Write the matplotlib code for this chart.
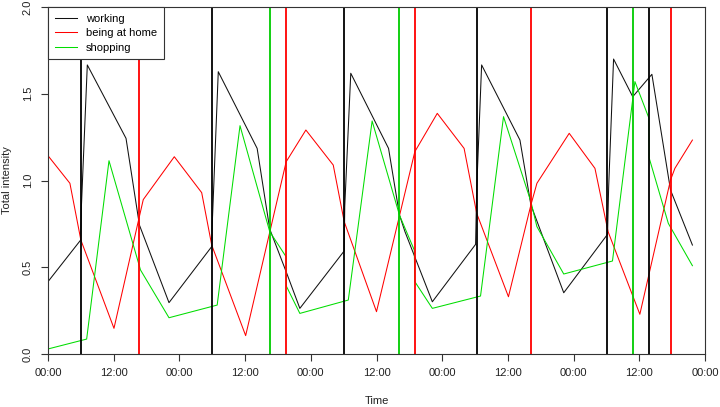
import matplotlib
matplotlib.use("Agg")
import matplotlib.pyplot as plt
from matplotlib.ticker import FixedLocator

plt.rcParams['font.family'] = ['Liberation Sans', 'DejaVu Sans']

# ---- data (time in hours from the first midnight) ----
working_t = [0, 5.97, 6.1, 7.18, 14.25, 16.7, 22.1, 29.9, 30.0, 31.1, 38.2, 40.5, 43.5, 46.0,
             54.1, 54.2, 55.3, 62.2, 64.2, 65.2, 70.2, 78.1, 78.3, 79.2, 86.2, 88.2, 94.2,
             102.2, 102.4, 103.3, 106.8, 110.3, 113.7, 117.7]
working_v = [0.417, 0.657, 0.85, 1.666, 1.243, 0.743, 0.296, 0.619, 0.75, 1.627, 1.185, 0.72, 0.474, 0.263,
             0.594, 0.85, 1.618, 1.185, 0.801, 0.705, 0.301, 0.632, 0.95, 1.666, 1.233, 0.859, 0.353,
             0.69, 0.96, 1.70, 1.483, 1.612, 0.945, 0.628]

home_t = [0, 4.0, 6.0, 12.05, 16.6, 17.4, 23.07, 28.07, 29.9, 36.1, 43.5, 47.1, 52.1, 54.1,
          60.0, 67.0, 71.1, 76.0, 78.3, 84.1, 88.2, 89.3, 95.2, 99.9, 102.3, 108.1, 113.7, 114.5, 117.7]
home_v = [1.143, 0.984, 0.657, 0.148, 0.78, 0.89, 1.137, 0.93, 0.628, 0.106, 1.108, 1.291, 1.089, 0.763,
          0.244, 1.166, 1.387, 1.185, 0.811, 0.330, 0.859, 0.984, 1.272, 1.07, 0.705, 0.229, 1.003, 1.07, 1.233]

shop_t = [0, 7.06, 11.14, 16.9, 22.1, 30.9, 35.07, 40.5, 43.5, 43.55, 46.0, 54.85, 59.2, 64.2,
          66.9, 67.0, 70.2, 79.0, 83.2, 88.2, 89.3, 94.2, 103.1, 107.2, 109.75, 109.8, 113.3, 117.7]
shop_v = [0.029, 0.086, 1.114, 0.484, 0.209, 0.282, 1.316, 0.705, 0.56, 0.39, 0.234, 0.311, 1.343, 0.80,
          0.599, 0.417, 0.263, 0.334, 1.368, 0.878, 0.734, 0.461, 0.536, 1.570, 1.36, 1.13, 0.753, 0.509]

working_events = [6.03, 29.95, 54.06, 78.4, 102.1, 109.8]
home_events = [16.6, 43.5, 67.0, 88.2, 113.8]
shop_events = [40.5, 64.1, 106.8]

series_labels = ["working", "being at home", "shopping"]
tick_hours = list(range(0, 121, 12))
tick_labels = ["00:00" if h % 24 == 0 else "12:00" for h in tick_hours]

# ---- figure ----
fig = plt.figure(figsize=(7.2, 4.07), dpi=100)
ax = fig.add_axes([48/720, 53/407, 657/720, 347/407])

c_black = "#000000"
c_red = "#FF0000"
c_green = "#00DD00"

ax.plot(working_t, working_v, color="#111111", lw=0.75, label=series_labels[0])
ax.plot(home_t, home_v, color=c_red, lw=0.75, label=series_labels[1])
ax.plot(shop_t, shop_v, color=c_green, lw=0.75, label=series_labels[2])

for t in working_events:
    ax.axvline(t, color=c_black, lw=1.3)
for t in home_events:
    ax.axvline(t, color=c_red, lw=1.3)
for t in shop_events:
    ax.axvline(t, color="#00CC00", lw=1.3)

ax.set_xlim(0, 120)
ax.set_ylim(0, 2.0)
ax.xaxis.set_major_locator(FixedLocator(tick_hours))
ax.set_xticklabels(tick_labels)
ax.set_yticks([0.0, 0.5, 1.0, 1.5, 2.0])
ax.set_yticklabels(["0.0", "0.5", "1.0", "1.5", "2.0"], rotation=90, va="center")

for sp in ax.spines.values():
    sp.set_color("#333333")
    sp.set_linewidth(0.8)
ax.tick_params(axis="both", length=5, width=0.8, color="#333333", labelsize=8, labelcolor="#222222")
ax.tick_params(axis="x", pad=5)
ax.tick_params(axis="y", pad=6)

ax.set_xlabel("Time", fontsize=8, color="#222222", labelpad=13)
ax.set_ylabel("Total intensity", fontsize=8, color="#222222", labelpad=8)

leg = ax.legend(loc="upper left", borderaxespad=0, fontsize=8, frameon=True, fancybox=False,
                handlelength=2.0, handletextpad=0.8, labelspacing=0.4, borderpad=0.6)
leg.get_frame().set_edgecolor("#333333")
leg.get_frame().set_linewidth(0.8)
leg.get_frame().set_alpha(1)

fig.savefig("out.png", dpi=100)
